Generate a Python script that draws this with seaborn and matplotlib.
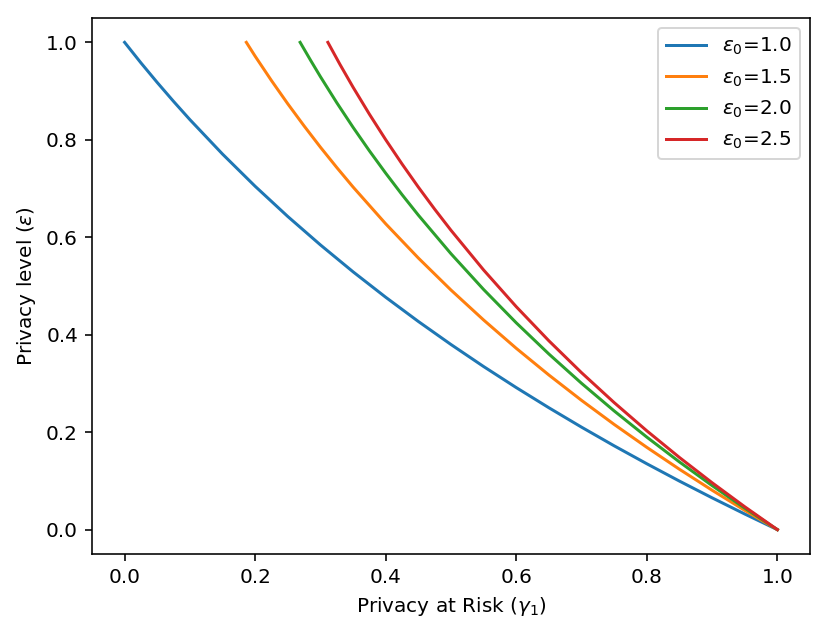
import pandas as pd
import seaborn as sns
import matplotlib.pyplot as plt

### Curve values (gamma_1 on x, epsilon on y)
gamma_10 = [0.0, 0.025, 0.05, 0.075, 0.10, 0.15, 0.20, 0.25, 0.30, 0.35, 0.40, 0.45, 0.50,
            0.55, 0.60, 0.65, 0.70, 0.75, 0.80, 0.85, 0.90, 0.95, 1.0]
eps_10 = [1.0, 0.9579, 0.9176, 0.8788, 0.8414, 0.7707, 0.7046, 0.6426, 0.5843, 0.5291, 0.4769,
          0.4272, 0.3799, 0.3347, 0.2915, 0.2501, 0.2103, 0.1720, 0.1352, 0.0996, 0.0653,
          0.0321, 0.0]

gamma_15 = [0.1865, 0.20, 0.225, 0.25, 0.275, 0.30, 0.325, 0.35, 0.40, 0.45, 0.50, 0.55,
            0.60, 0.65, 0.70, 0.75, 0.80, 0.85, 0.90, 0.95, 1.0]
eps_15 = [1.0, 0.9715, 0.9215, 0.8738, 0.8284, 0.7848, 0.7432, 0.7031, 0.6276, 0.5574,
          0.4917, 0.4302, 0.3721, 0.3173, 0.2653, 0.2159, 0.1689, 0.1239, 0.0809, 0.0396, 0.0]

gamma_20 = [0.2689, 0.285, 0.30, 0.325, 0.35, 0.375, 0.40, 0.425, 0.45, 0.50, 0.55, 0.60,
            0.65, 0.70, 0.75, 0.80, 0.85, 0.90, 0.95, 1.0]
eps_20 = [1.0, 0.9630, 0.9295, 0.8762, 0.8256, 0.7774, 0.7315, 0.6875, 0.6454, 0.5662,
          0.4928, 0.4244, 0.3604, 0.3003, 0.2436, 0.1899, 0.1389, 0.0904, 0.0442, 0.0]

gamma_25 = [0.3114, 0.33, 0.35, 0.375, 0.40, 0.425, 0.45, 0.475, 0.50, 0.55, 0.60,
            0.65, 0.70, 0.75, 0.80, 0.85, 0.90, 0.95, 1.0]
eps_25 = [1.0, 0.9545, 0.9079, 0.8526, 0.8002, 0.7504, 0.7029, 0.6576, 0.6143, 0.5328,
          0.4575, 0.3875, 0.3221, 0.2607, 0.2028, 0.1481, 0.0963, 0.0470, 0.0]

labels = [r'$\varepsilon_0$=1.0', r'$\varepsilon_0$=1.5', r'$\varepsilon_0$=2.0', r'$\varepsilon_0$=2.5']

### Build long-form table
frames = []
for lab, g, e in zip(labels, [gamma_10, gamma_15, gamma_20, gamma_25],
                     [eps_10, eps_15, eps_20, eps_25]):
    frames.append(pd.DataFrame({'gamma': g, 'eps': e, 'label': lab}))
df = pd.concat(frames, ignore_index=True)

### Plot
dpi = 144
fig, ax = plt.subplots(figsize=(830 / dpi, 633 / dpi), dpi=dpi)
fig.subplots_adjust(left=0.1108, right=0.9759, top=0.9716, bottom=0.1248)

sns.lineplot(data=df, x='gamma', y='eps', hue='label', hue_order=labels,
             palette=sns.color_palette('tab10', 4), estimator=None, sort=False,
             linewidth=1.5, ax=ax)

ax.set_xlabel(r'Privacy at Risk ($\gamma_1$)')
ax.set_ylabel(r'Privacy level ($\varepsilon$)')
ax.legend(loc='upper right', title=None)

plt.savefig('out.png', dpi=dpi)
